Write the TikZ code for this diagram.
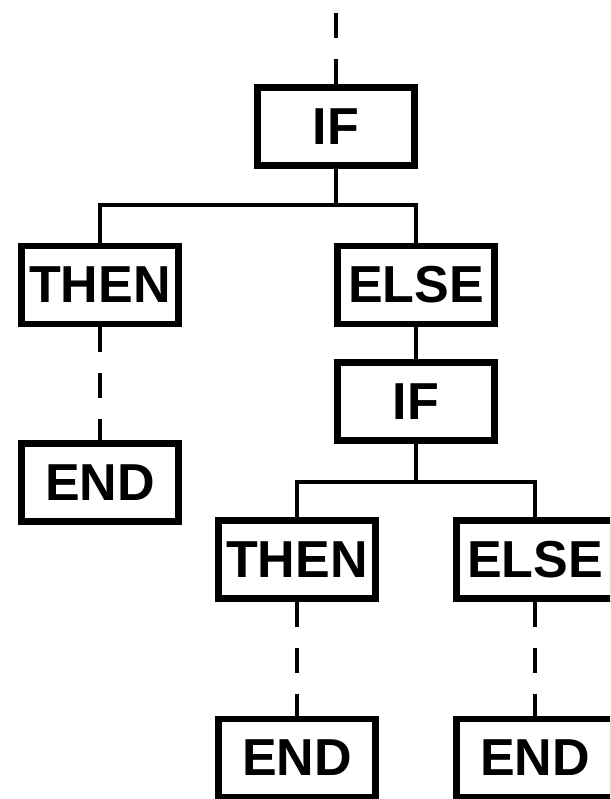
\documentclass[tikz,border=0pt]{standalone}
\usepackage{fontspec}
\setmainfont{Liberation Sans}
\begin{document}
\begin{tikzpicture}[x=1pt,y=-1pt,
  box/.style={draw=black, line width=6.5pt, fill=white, inner sep=0pt,
    minimum width=157pt, minimum height=78pt, outer sep=3.25pt,
    font=\bfseries\fontsize{52}{52}\selectfont},
  link/.style={line width=4.5pt, line join=miter},
  dashlink/.style={line width=4.5pt, dash pattern=on 25pt off 21pt}]
\useasboundingbox (0,0) rectangle (610,799);
\clip (0,0) rectangle (610,799);
% boxes
\node[box] (if1) at (336,126.5) {IF};
\node[box] (then1) at (100,285) {THEN};
\node[box] (else1) at (416,285) {ELSE};
\node[box] (end1) at (100,482.5) {END};
\node[box] (if2) at (416,401.5) {IF};
\node[box] (then2) at (297,559.5) {THEN};
\node[box] (else2) at (535,559.5) {ELSE};
\node[box] (end2) at (297,758) {END};
\node[box] (end3) at (535,758) {END};
\coordinate (top) at (336,0);
\coordinate (bar1) at (0,205);
\coordinate (bar2) at (0,482);
% connectors
\draw[dashlink] (if1.north) -- (top);
\draw[link] (if1.south) -- (if1.south |- bar1);
\draw[link] (then1.north) -- (then1.north |- bar1) -- (else1.north |- bar1) -- (else1.north);
\draw[dashlink] (then1.south) -- (end1.north);
\draw[link] (else1.south) -- (if2.north);
\draw[link] (if2.south) -- (if2.south |- bar2);
\draw[link] (then2.north) -- (then2.north |- bar2) -- (else2.north |- bar2) -- (else2.north);
\draw[dashlink] (then2.south) -- (end2.north);
\draw[dashlink] (else2.south) -- (end3.north);
\end{tikzpicture}
\end{document}
